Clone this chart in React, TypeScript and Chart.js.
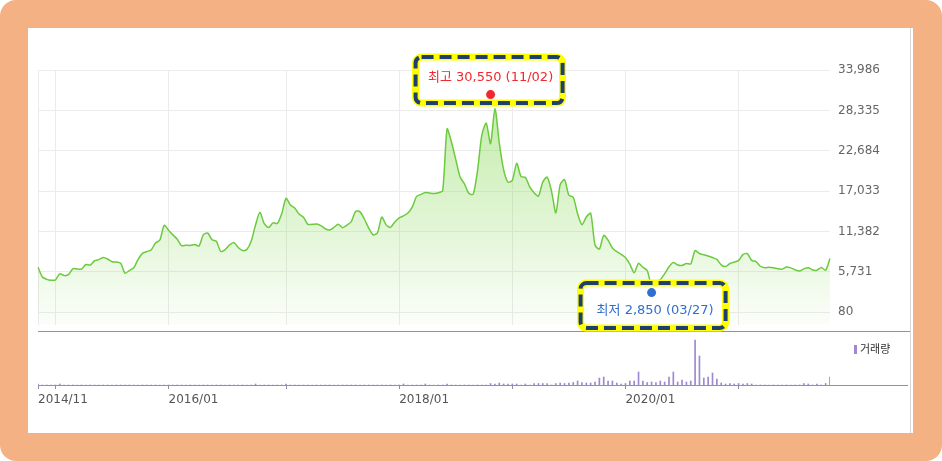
import { useEffect, useRef } from "react";
import Chart from "chart.js/auto";
import type { Plugin } from "chart.js";

// series start date, one point every two weeks
const START = new Date(2014, 10, 7);
const STEP_DAYS = 14;

// price (won)
const price2014 = [6390, 5020, 4700, 4570];
const price2015 = [4610, 5470, 5220, 5350, 6180, 6140, 6120, 6780, 6690, 7300, 7460, 7760, 7540, 7160, 7130, 6940, 5570, 5930, 6310, 7500, 8340, 8590, 8810, 9790, 10200, 12250];
const price2016 = [11580, 10920, 10310, 9410, 9460, 9450, 9590, 9370, 10950, 11180, 10230, 9990, 8600, 8870, 9500, 9860, 9160, 8720, 8870, 10050, 12330, 14070, 12480, 11950, 12600, 12510, 13870];
const price2017 = [16030, 15100, 14680, 13830, 13400, 12400, 12390, 12430, 12210, 11780, 11600, 11970, 12390, 11930, 12290, 12780, 14210, 14140, 13140, 11880, 10930, 11190, 13410, 12320, 11970, 12730];
const price2018 = [13300, 13570, 13980, 14800, 16310, 16580, 16840, 16770, 16710, 16820, 17120, 25730, 23950, 21480, 19010, 18050, 16730, 16600, 19890, 24910, 26550, 23670, 28610, 23810, 20010, 18300];
const price2019 = [18540, 20930, 19080, 18940, 17640, 16820, 16340, 18320, 19010, 17050, 14000, 17950, 18650, 16460, 16180, 13870, 12340, 13410, 13940, 9500, 8930, 10840, 10180, 9080, 8570, 8200];
const price2020 = [7760, 6830, 5620, 6940, 6390, 5930, 3770, 4390, 4650, 5490, 6450, 7050, 6710, 6650, 6910, 6860, 8720, 8310, 8130, 7970, 7750, 7490, 6730, 6490, 6910, 7120];
const price2021 = [7350, 8170, 8300, 7350, 7190, 6530, 6320, 6380, 6310, 6170, 6130, 6430, 6300, 6020, 5860, 6160, 6310, 6010, 5980, 6350, 5980, 7630];

// volume (thousand shares)
const vol2014 = [100, 0, 0, 0];
const vol2015 = [0, 100, 0, 0, 0, 0, 0, 0, 0, 0, 0, 0, 0, 0, 0, 0, 0, 0, 0, 0, 0, 0, 0, 0, 0, 0];
const vol2016 = [0, 0, 0, 0, 0, 0, 0, 0, 0, 0, 0, 0, 0, 0, 0, 0, 0, 0, 0, 0, 100, 0, 0, 0, 0, 0, 0];
const vol2017 = [100, 0, 0, 0, 0, 0, 0, 0, 0, 0, 0, 0, 0, 0, 0, 0, 0, 0, 0, 0, 0, 0, 0, 0, 0, 0];
const vol2018 = [0, 100, 0, 0, 0, 0, 100, 0, 0, 0, 0, 100, 0, 0, 0, 0, 0, 0, 0, 0, 0, 150, 100, 200, 100, 100];
const vol2019 = [100, 100, 0, 100, 0, 150, 150, 150, 150, 0, 150, 200, 150, 200, 250, 400, 250, 200, 200, 300, 700, 800, 400, 400, 200, 100];
const vol2020 = [150, 400, 400, 1300, 400, 250, 300, 250, 400, 300, 800, 1300, 300, 500, 300, 400, 4500, 2900, 700, 800, 1200, 600, 200, 100, 150, 100];
const vol2021 = [150, 100, 150, 100, 0, 0, 0, 0, 0, 0, 0, 0, 0, 0, 0, 150, 100, 0, 100, 0, 150, 800];

const priceTicks = [80, 5731, 11382, 17033, 22684, 28335, 33986];
const priceMin = -1660;
const volumeMax = 5400;

const extremeNames = ["최고", "최저"];
const extremeDates = ["2018/11/02", "2020/03/27"];
const extremeValues = [30550, 2850];
const extremeColors = ["#f0282d", "#2f6fd0"];

const prices = [...price2014, ...price2015, ...price2016, ...price2017, ...price2018, ...price2019, ...price2020, ...price2021];
const volumes = [...vol2014, ...vol2015, ...vol2016, ...vol2017, ...vol2018, ...vol2019, ...vol2020, ...vol2021];

const pad = (n: number) => String(n).padStart(2, "0");
const dates = prices.map(
	(_, i) => new Date(START.getFullYear(), START.getMonth(), START.getDate() + i * STEP_DAYS),
);
const labels = dates.map((d) => `${d.getFullYear()}/${pad(d.getMonth() + 1)}/${pad(d.getDate())}`);
const yearStart = dates.map((d, i) => i === 0 || d.getFullYear() !== dates[i - 1].getFullYear());

const dayMs = 86400000;
const extremeIdx = extremeDates.map((s) => {
	const [y, m, d] = s.split("/").map(Number);
	return Math.round((new Date(y, m - 1, d).getTime() - START.getTime()) / (dayMs * STEP_DAYS));
});
const extremeData = prices.map((_, i) => {
	const k = extremeIdx.indexOf(i);
	return k >= 0 ? extremeValues[k] : null;
});

const tickFont = { family: "'DejaVu Sans', sans-serif", size: 12 };

function roundRectPath(ctx: CanvasRenderingContext2D, x: number, y: number, w: number, h: number, r: number) {
	ctx.beginPath();
	ctx.moveTo(x + r, y);
	ctx.lineTo(x + w - r, y);
	ctx.arcTo(x + w, y, x + w, y + r, r);
	ctx.lineTo(x + w, y + h - r);
	ctx.arcTo(x + w, y + h, x + w - r, y + h, r);
	ctx.lineTo(x + r, y + h);
	ctx.arcTo(x, y + h, x, y + h - r, r);
	ctx.lineTo(x, y + r);
	ctx.arcTo(x, y, x + r, y, r);
	ctx.closePath();
}

// yellow / navy dashed call-out boxes, drawn just before the dots
const calloutPlugin: Plugin<"line"> = {
	id: "callouts",
	beforeDatasetDraw(chart, args) {
		if (args.index !== 0) return;
		const ctx = chart.ctx;
		const meta = chart.getDatasetMeta(0);
		const boxes = [
			{ dx: -1.5, dy: -41, w: 154, h: 53, tx: 0, ty: -17 },
			{ dx: 1.5, dy: -13, w: 152, h: 52, tx: 3.5, ty: 18 },
		];
		extremeIdx.forEach((idx, k) => {
			const pt = meta.data[idx] as unknown as { x: number; y: number };
			if (!pt) return;
			const b = boxes[k];
			const left = pt.x + b.dx - b.w / 2;
			const top = pt.y + b.dy;
			ctx.save();
			ctx.fillStyle = "#ffff00";
			roundRectPath(ctx, left, top, b.w, b.h, 9);
			ctx.fill();
			ctx.fillStyle = "#ffffff";
			roundRectPath(ctx, left + 7, top + 7, b.w - 14, b.h - 14, 3);
			ctx.fill();
			ctx.strokeStyle = "#1f3f6e";
			ctx.lineWidth = 4;
			ctx.setLineDash([12, 6]);
			roundRectPath(ctx, left + 3.5, top + 3.5, b.w - 7, b.h - 7, 6);
			ctx.stroke();
			ctx.setLineDash([]);
			ctx.font = "13px 'DejaVu Sans', 'Noto Sans CJK KR', sans-serif";
			ctx.textAlign = "center";
			ctx.textBaseline = "middle";
			ctx.fillStyle = extremeColors[k];
			const [, m, d] = extremeDates[k].split("/");
			ctx.fillText(
				`${extremeNames[k]} ${extremeValues[k].toLocaleString("en-US")} (${m}/${d})`,
				pt.x + b.tx,
				pt.y + b.ty,
			);
			ctx.restore();
		});
	},
};

const App = () => {
	const priceRef = useRef<HTMLCanvasElement | null>(null);
	const volumeRef = useRef<HTMLCanvasElement | null>(null);

	useEffect(() => {
		if (!priceRef.current || !volumeRef.current) return;

		const priceChart = new Chart(priceRef.current, {
			type: "line",
			data: {
				labels,
				datasets: [
					{
						label: "extremes",
						data: extremeData,
						showLine: false,
						order: 0,
						pointRadius: 4.5,
						pointBorderWidth: 0,
						pointBackgroundColor: (c: any) => extremeColors[extremeIdx.indexOf(c.dataIndex)] ?? "transparent",
					},
					{
						label: "price",
						data: prices,
						order: 1,
						borderColor: "#6bcb3d",
						borderWidth: 1.5,
						pointRadius: 0,
						tension: 0.25,
						fill: "start",
						backgroundColor: (c: any) => {
							const area = c.chart.chartArea;
							if (!area) return "rgba(130,215,80,0.3)";
							const g = c.chart.ctx.createLinearGradient(0, area.top, 0, area.bottom);
							g.addColorStop(0, "rgba(130,215,80,0.55)");
							g.addColorStop(1, "rgba(130,215,80,0.03)");
							return g;
						},
					},
				],
			},
			options: {
				responsive: false,
				animation: false,
				layout: { padding: { left: 10, top: 42, right: 0, bottom: 9 } },
				plugins: { legend: { display: false }, tooltip: { enabled: false } },
				scales: {
					x: {
						type: "category",
						offset: false,
						border: { display: false },
						grid: {
							drawTicks: false,
							color: (c: any) => (yearStart[c.index] ? "#ebebeb" : "transparent"),
						},
						ticks: { display: false, autoSkip: false },
						afterFit: (scale: any) => {
							scale.height = 0;
						},
					},
					y: {
						position: "right",
						min: priceMin,
						max: priceTicks[priceTicks.length - 1],
						border: { display: false },
						grid: { drawTicks: false, color: "#ececec" },
						afterBuildTicks: (scale: any) => {
							scale.ticks = priceTicks.map((v) => ({ value: v }));
						},
						afterFit: (scale: any) => {
							scale.width = 83;
						},
						ticks: {
							padding: 8,
							color: "#666",
							font: tickFont,
							callback: (v: any) => Number(v).toLocaleString("en-US"),
						},
					},
				},
			},
			plugins: [calloutPlugin],
		});

		const volumeChart = new Chart(volumeRef.current, {
			type: "bar",
			data: {
				labels,
				datasets: [
					{
						label: "거래량",
						data: volumes,
						backgroundColor: "#9e88d0",
						barThickness: 1,
					},
				],
			},
			options: {
				responsive: false,
				animation: false,
				layout: { padding: { left: 10, top: 0, right: 83, bottom: 0 } },
				plugins: { legend: { display: false }, tooltip: { enabled: false } },
				scales: {
					x: {
						type: "category",
						offset: false,
						border: { display: true, color: "#8f949c" },
						grid: {
							offset: false,
							drawOnChartArea: false,
							drawTicks: true,
							tickLength: 4,
							color: (c: any) => (yearStart[c.index] ? "#8f949c" : "transparent"),
						},
						ticks: {
							autoSkip: false,
							maxRotation: 0,
							minRotation: 0,
							align: "start",
							padding: 4,
							color: "#555",
							font: tickFont,
							callback: (_v: any, i: number) => {
								const d = dates[i];
								const show = i === 0 || (yearStart[i] && d.getFullYear() % 2 === 0);
								return show ? `${d.getFullYear()}/${pad(d.getMonth() + 1)}` : "";
							},
						},
						afterFit: (scale: any) => {
							scale.height = 47;
						},
					},
					y: { display: false, min: 0, max: volumeMax },
				},
			},
		});

		return () => {
			priceChart.destroy();
			volumeChart.destroy();
		};
	}, []);

	return (
		<div style={{ position: "absolute", left: 0, top: 0, width: 942, height: 461, background: "#fff", overflow: "hidden" }}>
			<div style={{ position: "absolute", left: 0, top: 0, width: 942, height: 461, background: "#F4B183", borderRadius: 16 }} />
			<div style={{ position: "absolute", left: 28, top: 28, width: 885, height: 405, background: "#fff" }} />
			<div style={{ position: "absolute", left: 910, top: 28, width: 1, height: 405, background: "#d6d6d6" }} />
			<canvas
				ref={volumeRef}
				width={885}
				height={101}
				style={{ position: "absolute", left: 28, top: 331, width: 885, height: 101 }}
			/>
			<div style={{ position: "absolute", left: 38, top: 331, width: 872, height: 1, background: "#8f949c" }} />
			<div style={{ position: "absolute", left: 830, top: 385, width: 78, height: 1, background: "#8f949c" }} />
			<div
				style={{
					position: "absolute",
					left: 854,
					top: 341,
					height: 14,
					lineHeight: "14px",
					fontSize: 11,
					fontFamily: "'Noto Sans CJK KR', sans-serif",
					color: "#333",
					whiteSpace: "nowrap",
				}}
			>
				<span style={{ display: "inline-block", width: 3, height: 9, background: "#9e88d0", marginRight: 3, verticalAlign: "-1px" }} />
				거래량
			</div>
			<canvas
				ref={priceRef}
				width={885}
				height={312}
				style={{ position: "absolute", left: 28, top: 28, width: 885, height: 312 }}
			/>
		</div>
	);
};

export default App;
